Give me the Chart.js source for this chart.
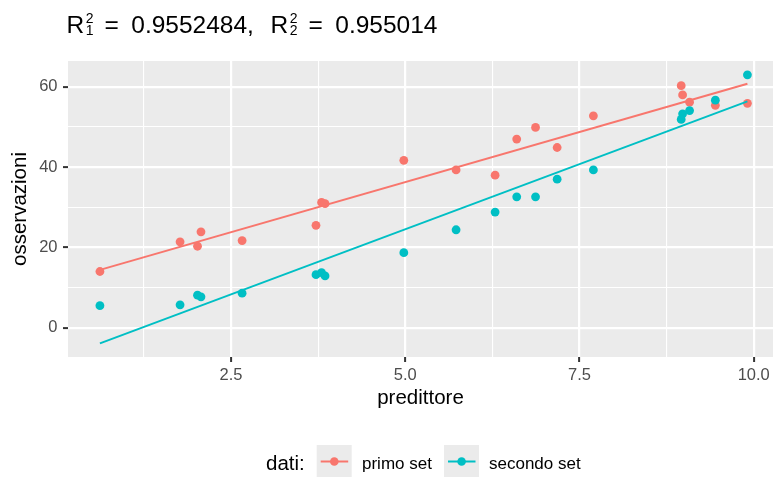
<!DOCTYPE html>
<html>
<head>
<meta charset="utf-8">
<script src="https://cdn.jsdelivr.net/npm/chart.js@4"></script>
<style>
html,body{margin:0;padding:0;background:#ffffff;}
#wrap{position:relative;width:773px;height:477px;}
</style>
</head>
<body>
<div id="wrap"><canvas id="c" width="773" height="477"></canvas></div>
<script>
// ---- data ----
const predittore = [0.62, 1.77, 2.02, 2.07, 2.66, 3.72, 3.80, 3.85, 4.98, 5.73, 6.29, 6.60, 6.87, 7.18, 7.70, 8.96, 8.98, 9.08, 9.45, 9.91];
const primoSet   = [14.0, 21.4, 20.3, 23.9, 21.7, 25.5, 31.2, 30.9, 41.7, 39.3, 38.0, 47.0, 49.9, 44.9, 52.8, 60.3, 58.0, 56.2, 55.4, 55.9];
const secondoSet = [5.5, 5.7, 8.1, 7.7, 8.6, 13.2, 13.7, 12.9, 18.7, 24.4, 28.8, 32.6, 32.6, 37.0, 39.3, 51.9, 53.3, 54.1, 56.7, 63.0];
const fitX       = [0.62, 9.91];
const fitPrimo   = [14.4, 60.8];
const fitSecondo = [-3.9, 56.4];

const xTickValues = [1.25, 2.5, 3.75, 5, 6.25, 7.5, 8.75, 10];
const xTickLabels = ['', '2.5', '', '5.0', '', '7.5', '', '10.0'];
const yTickValues = [0, 10, 20, 30, 40, 50, 60];
const yTickLabels = ['0', '', '20', '', '40', '', '60'];

const seriesNames = ['primo set', 'secondo set'];
const legendTitle = 'dati:';
const xTitle = 'predittore';
const yTitle = 'osservazioni';
const r2Values = ['0.9552484', '0.955014'];
const r2Subs = ['1', '2'];

// ---- styling ----
const RED = '#F8766D', TEAL = '#00BFC4';
const FONT = "'Liberation Sans', Arial, Helvetica, sans-serif";
Chart.defaults.font.family = FONT;

function pts(xs, ys){ return xs.map((x,i)=>({x:x, y:ys[i]})); }

const panelBg = {
  id: 'panelBg',
  beforeDraw(chart){
    const {ctx, chartArea:a} = chart;
    ctx.save();
    ctx.fillStyle = '#EBEBEB';
    ctx.fillRect(a.left, a.top, a.right - a.left, a.bottom - a.top);
    ctx.restore();
  }
};

const extras = {
  id: 'extras',
  afterDraw(chart){
    const ctx = chart.ctx;
    ctx.save();
    ctx.fillStyle = '#000000';
    ctx.textAlign = 'left';
    ctx.textBaseline = 'alphabetic';
    // title: R[k]^2 = value, drawn as text pieces
    const big = "24.5px " + FONT, small = "14px " + FONT;
    const base = 33.3;
    const startX = [66.5, 270.5];
    for (let k = 0; k < 2; k++) {
      let x = startX[k];
      ctx.font = big;
      ctx.fillText('R', x, base);
      x += ctx.measureText('R').width + 1.5;
      ctx.font = small;
      ctx.fillText('2', x, 22.7);
      ctx.fillText(r2Subs[k], x, 35.2);
      x += ctx.measureText('2').width + 11;
      ctx.font = big;
      ctx.fillText('=', x, base);
      x += ctx.measureText('=').width + 12.5;
      const txt = r2Values[k] + (k === 0 ? ',' : '');
      ctx.fillText(txt, x, base);
    }
    // legend
    ctx.font = "20.5px " + FONT;
    ctx.fillText(legendTitle, 266, 469.5);
    const boxes = [316.7, 444];
    const colors = [RED, TEAL];
    const textX = [362, 489];
    for (let k = 0; k < 2; k++) {
      const bx = boxes[k];
      ctx.fillStyle = '#EBEBEB';
      ctx.fillRect(bx, 445, 35, 32);
      ctx.strokeStyle = colors[k];
      ctx.lineWidth = 2;
      ctx.beginPath();
      ctx.moveTo(bx + 4, 461.5);
      ctx.lineTo(bx + 31.5, 461.5);
      ctx.stroke();
      ctx.fillStyle = colors[k];
      ctx.beginPath();
      ctx.arc(bx + 17.6, 461.5, 4.3, 0, Math.PI * 2);
      ctx.fill();
      ctx.fillStyle = '#000000';
      ctx.font = "17px " + FONT;
      ctx.fillText(seriesNames[k], textX[k], 468.5);
    }
    ctx.restore();
  }
};

const majorX = i => xTickLabels[i] !== '';
const majorY = i => yTickLabels[i] !== '';

new Chart(document.getElementById('c'), {
  type: 'scatter',
  data: {
    datasets: [
      { label: seriesNames[1] + ' fit', data: pts(fitX, fitSecondo), showLine: true, borderColor: TEAL, borderWidth: 2, pointRadius: 0, fill: false, order: 0 },
      { label: seriesNames[0] + ' fit', data: pts(fitX, fitPrimo), showLine: true, borderColor: RED, borderWidth: 2, pointRadius: 0, fill: false, order: 1 },
      { label: seriesNames[1], data: pts(predittore, secondoSet), backgroundColor: TEAL, borderWidth: 0, pointRadius: 4.4, pointHoverRadius: 4.4, order: 2 },
      { label: seriesNames[0], data: pts(predittore, primoSet), backgroundColor: RED, borderWidth: 0, pointRadius: 4.4, pointHoverRadius: 4.4, order: 3 }
    ]
  },
  options: {
    responsive: false,
    devicePixelRatio: 1,
    animation: false,
    events: [],
    layout: { autoPadding: false, padding: { top: 61, left: 0, right: 0, bottom: 60 } },
    plugins: { legend: { display: false }, tooltip: { enabled: false }, title: { display: false } },
    scales: {
      x: {
        type: 'linear', min: 0.162, max: 10.277,
        afterBuildTicks: s => { s.ticks = xTickValues.map(v => ({ value: v })); },
        afterFit: s => { s.height = 60; s.paddingLeft = 0; s.paddingRight = 0; },
        ticks: { autoSkip: false, maxRotation: 0, minRotation: 0, padding: 4, color: '#4D4D4D', font: { size: 16.5 },
                 callback: (v, i) => xTickLabels[i] },
        grid: { color: '#FFFFFF', lineWidth: c => majorX(c.index) ? 2.2 : 1.1, drawTicks: true, tickLength: 5,
                tickColor: c => majorX(c.index) ? '#333333' : 'rgba(0,0,0,0)', tickWidth: c => majorX(c.index) ? 2 : 0 },
        border: { display: false },
        title: { display: true, text: xTitle, color: '#000000', font: { size: 20.5 }, padding: { top: 0, bottom: 6 } }
      },
      y: {
        type: 'linear', min: -7.3, max: 66.45,
        afterBuildTicks: s => { s.ticks = yTickValues.map(v => ({ value: v })); },
        afterFit: s => { s.width = 68; s.paddingTop = 0; s.paddingBottom = 0; },
        ticks: { autoSkip: false, padding: 5.5, color: '#4D4D4D', font: { size: 16.5 },
                 callback: (v, i) => yTickLabels[i] },
        grid: { color: '#FFFFFF', lineWidth: c => majorY(c.index) ? 2.2 : 1.1, drawTicks: true, tickLength: 5,
                tickColor: c => majorY(c.index) ? '#333333' : 'rgba(0,0,0,0)', tickWidth: c => majorY(c.index) ? 2 : 0 },
        border: { display: false },
        title: { display: true, text: yTitle, color: '#000000', font: { size: 20.5 }, padding: { top: 8, bottom: 0 } }
      }
    }
  },
  plugins: [panelBg, extras]
});
</script>
</body>
</html>
